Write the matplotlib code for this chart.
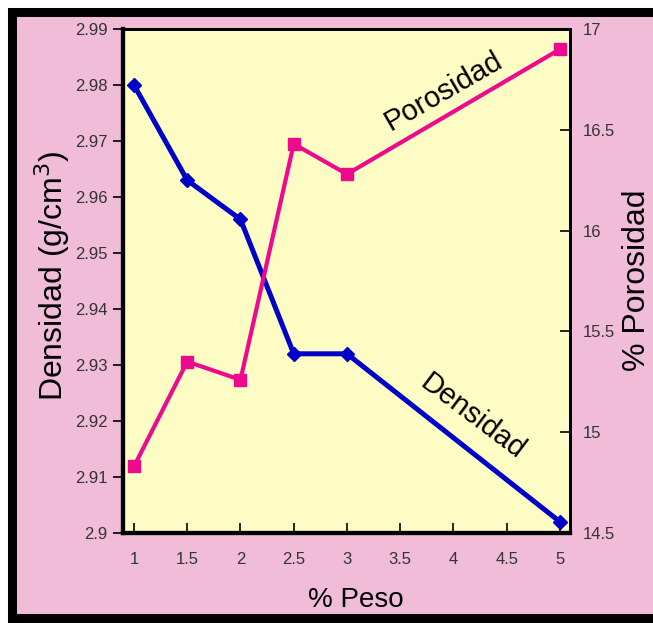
import matplotlib.pyplot as plt
from matplotlib.patches import Rectangle

# datos
peso = [1, 1.5, 2, 2.5, 3, 5]
densidad = [2.980, 2.963, 2.956, 2.932, 2.932, 2.902]
porosidad = [14.83, 15.35, 15.26, 16.43, 16.28, 16.90]

x_ticks = [1, 1.5, 2, 2.5, 3, 3.5, 4, 4.5, 5]
y1_ticks = [2.9, 2.91, 2.92, 2.93, 2.94, 2.95, 2.96, 2.97, 2.98, 2.99]
y2_ticks = [14.5, 15, 15.5, 16, 16.5, 17]

plt.rcParams['font.family'] = ['Liberation Sans', 'DejaVu Sans']

W, H = 653, 623
fig = plt.figure(figsize=(W / 100, H / 100), dpi=100)
fig.patch.set_facecolor('white')

# marco rosa con borde negro
fig.patches.append(Rectangle((12.5 / W, 1 - 617.5 / H), 1.1, (617.5 - 11.5) / H,
                             transform=fig.transFigure, facecolor='#F0BCD8',
                             edgecolor='black', linewidth=6.5, zorder=-5))

ax = fig.add_axes([123 / W, 1 - 533 / H, 447 / W, 504 / H])
ax.set_facecolor('#FCFCC4')
ax2 = ax.twinx()

ax.plot(peso, densidad, color='#0000C8', lw=3.6, marker='D', ms=7, zorder=3)
ax2.plot(peso, porosidad, color='#EE0A8C', lw=3, marker='s', ms=9, zorder=3)

ax.set_xlim(0.897, 5.094)
ax.set_ylim(2.9, 2.99)
ax2.set_ylim(14.5, 17)
ax.set_xticks(x_ticks)
ax.set_xticklabels([f'{t:g}' for t in x_ticks], fontsize=12, color='#333333')
ax.set_yticks(y1_ticks)
ax.set_yticklabels([f'{t:g}' for t in y1_ticks], fontsize=12, color='#333333')
ax2.set_yticks(y2_ticks)
ax2.set_yticklabels([f'{t:g}' for t in y2_ticks], fontsize=12, color='#333333')

ax.tick_params(axis='y', direction='out', length=7, width=1.2, pad=4)
ax.tick_params(axis='x', direction='in', length=7, width=1.2, pad=14)
ax2.tick_params(axis='y', direction='in', length=7, width=1.2, pad=9)

for a in (ax, ax2):
    for s in a.spines.values():
        s.set_linewidth(2)
    a.spines['left'].set_linewidth(3)
    a.spines['bottom'].set_linewidth(3)

# titulos de ejes
fig.text(356 / W, 1 - 607 / H, '% Peso', fontsize=20, ha='center', va='baseline')
fig.text(63 / W, 1 - 276 / H, 'Densidad (g/cm$^{3}$)', fontsize=23, rotation=90,
         rotation_mode='anchor', ha='center', va='baseline')
fig.text(645 / W, 1 - 280 / H, '% Porosidad', fontsize=23, rotation=90,
         rotation_mode='anchor', ha='center', va='baseline')

ax2.text(3.91, 16.69, 'Porosidad', fontsize=21, rotation=30, ha='center', va='center')
ax.text(4.18, 2.9207, 'Densidad', fontsize=21, rotation=-37, ha='center', va='center')

fig.savefig('out.png', dpi=100)
